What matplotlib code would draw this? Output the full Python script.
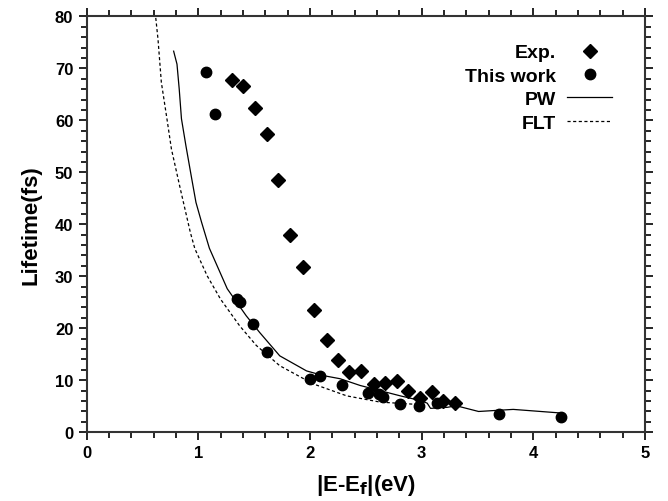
import numpy as np
import matplotlib
matplotlib.use('Agg')
import matplotlib.pyplot as plt
from matplotlib.ticker import MultipleLocator

plt.rcParams['font.family'] = ['Liberation Sans', 'DejaVu Sans']
plt.rcParams['font.weight'] = 'bold'

# experimental data (diamonds)
exp_x = [1.30, 1.40, 1.51, 1.62, 1.71, 1.82, 1.94, 2.04, 2.15, 2.25, 2.35,
         2.46, 2.57, 2.67, 2.78, 2.88, 2.99, 3.09, 3.19, 3.30]
exp_y = [67.7, 66.6, 62.3, 57.4, 48.5, 37.9, 31.7, 23.5, 17.8, 13.9, 11.6,
         11.7, 9.2, 9.4, 9.8, 7.9, 6.5, 7.8, 6.0, 5.7]

# this work (circles)
tw_x = [1.07, 1.15, 1.35, 1.37, 1.49, 1.62, 2.00, 2.09, 2.29, 2.52, 2.62,
        2.65, 2.81, 2.98, 3.14, 3.69, 4.25]
tw_y = [69.2, 61.3, 25.6, 25.0, 20.8, 15.4, 10.3, 10.8, 9.1, 7.5, 7.3,
        6.7, 5.5, 5.0, 5.6, 3.6, 2.9]

# PW (solid line)
pw_x = [0.78, 0.81, 0.83, 0.85, 0.89, 0.94, 0.98, 1.03, 1.10, 1.26, 1.43,
        1.55, 1.73, 1.97, 2.12, 2.27, 2.45, 2.63, 2.81, 2.99, 3.05, 3.08,
        3.23, 3.31, 3.51, 3.82, 4.25]
pw_y = [73.3, 70.8, 66.0, 60.3, 55.1, 49.0, 44.2, 40.4, 35.4, 27.6, 22.4,
        19.2, 14.7, 11.8, 10.9, 10.3, 9.0, 8.0, 7.0, 6.1, 5.6, 4.6,
        4.8, 5.1, 4.0, 4.4, 3.7]

# FLT (dashed line)
flt_x = [0.62, 0.64, 0.67, 0.72, 0.76, 0.84, 0.93, 0.97, 1.08, 1.20, 1.37,
         1.52, 1.73, 2.03, 2.33, 2.63, 2.93, 3.01]
flt_y = [79.7, 75.6, 67.3, 60.3, 54.5, 46.8, 38.4, 35.3, 30.1, 25.6, 20.5,
         16.7, 12.8, 9.3, 7.0, 5.8, 5.4, 5.8]

fig = plt.figure(figsize=(6.68, 5.02), dpi=100)
ax = fig.add_axes([0.1295, 0.1369, 0.9656 - 0.1295, 0.9655 - 0.1369])

ax.plot(exp_x, exp_y, 'D', color='black', ms=7, label='Exp.')
ax.plot(tw_x, tw_y, 'o', color='black', ms=7.5, label='This work')
ax.plot(pw_x, pw_y, '-', color='black', lw=0.9, label='PW')
ax.plot(flt_x, flt_y, '--', color='black', lw=0.9, dashes=(2.5, 2), label='FLT')

ax.set_xlim(0, 5)
ax.set_ylim(0, 80)
ax.xaxis.set_major_locator(MultipleLocator(1))
ax.xaxis.set_minor_locator(MultipleLocator(0.2))
ax.yaxis.set_major_locator(MultipleLocator(10))
ax.yaxis.set_minor_locator(MultipleLocator(2))

ax.tick_params(which='both', direction='out', top=True, right=True,
               labelsize=12, width=1.2)
ax.tick_params(which='major', length=6)
ax.tick_params(which='minor', length=4)
for lbl in ax.get_xticklabels() + ax.get_yticklabels():
    lbl.set_fontweight('bold')
for s in ax.spines.values():
    s.set_linewidth(1.5)
    s.set_color('#333333')

ax.set_xlabel('|E-E$_\\mathbf{f}$|(eV)', fontsize=16, fontweight='bold', labelpad=8)
ax.set_ylabel('Lifetime(fs)', fontsize=16, fontweight='bold', labelpad=10)

leg = ax.legend(loc='upper right', frameon=False, markerfirst=False,
                prop={'size': 14, 'weight': 'bold'}, handlelength=2.3,
                handletextpad=0.6, labelspacing=0.3, borderpad=0,
                borderaxespad=0, bbox_to_anchor=(0.941, 0.934))
for t in leg.get_texts():
    t.set_ha('right')

plt.savefig('out.png', dpi=100)
plt.close()
